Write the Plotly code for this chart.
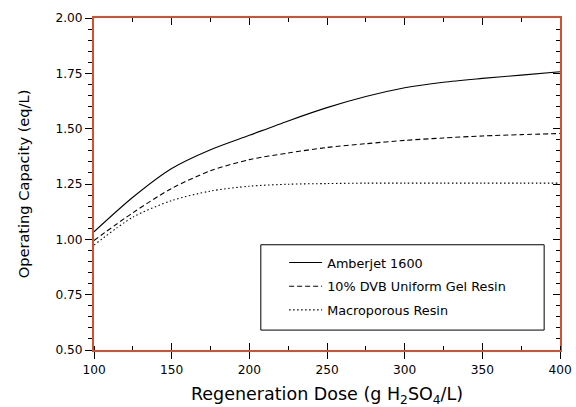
import plotly.graph_objects as go

dose = [100, 125, 150, 175, 200, 225, 250, 275, 300, 325, 350, 375, 400]
amberjet = [1.034, 1.19, 1.32, 1.405, 1.47, 1.535, 1.595, 1.645, 1.685, 1.71, 1.727, 1.742, 1.757]
dvb_gel = [0.995, 1.12, 1.23, 1.31, 1.36, 1.39, 1.415, 1.432, 1.447, 1.458, 1.467, 1.473, 1.478]
macroporous = [0.974, 1.10, 1.175, 1.218, 1.24, 1.249, 1.252, 1.254, 1.254, 1.254, 1.254, 1.254, 1.254]

names = ["Amberjet 1600", "10% DVB Uniform Gel Resin", "Macroporous Resin"]
series = [amberjet, dvb_gel, macroporous]
dashes = ["solid", "5px,3px", "1.5px,2.5px"]

x_range = [100, 400]
y_range = [0.5, 2.0]

FONT = "DejaVu Sans, Verdana, sans-serif"
ORANGE = "#d4502f"

fig = go.Figure()
for i, (nm, ys, ds) in enumerate(zip(names, series, dashes)):
    fig.add_trace(go.Scatter(
        x=dose, y=ys, name=nm, mode="lines",
        line=dict(color="black", width=1.1, dash=ds, shape="spline", smoothing=0.8),
        legendgroup=f"g{i}",
    ))

# invisible helper traces so the mirror axes are drawn
fig.add_trace(go.Scatter(x=[], y=[], xaxis="x2", yaxis="y", showlegend=False, hoverinfo="skip"))
fig.add_trace(go.Scatter(x=[], y=[], xaxis="x3", yaxis="y2", showlegend=False, hoverinfo="skip"))

common = dict(showgrid=False, zeroline=False, tickcolor="black", tickwidth=1, automargin=False)

fig.update_layout(
    width=576, height=407,
    margin=dict(l=94, r=16, t=18, b=57),
    paper_bgcolor="white", plot_bgcolor="white",
    font=dict(family=FONT, size=12, color="black"),
    showlegend=True,
    legend=dict(
        x=0.408, y=0.308, xanchor="left", yanchor="top",
        bgcolor="rgba(0,0,0,0)", borderwidth=0, itemwidth=33,
        font=dict(family=FONT, size=12.8, color="black"),
        tracegroupgap=4,
    ),
    xaxis=dict(
        range=x_range, dtick=50, tick0=100, ticks="outside", ticklen=7,
        minor=dict(dtick=25, ticks="inside", ticklen=4, tickcolor="black"),
        showline=True, linecolor=ORANGE, linewidth=2, mirror=True,
        tickfont=dict(size=12.2),
        title=dict(text="Regeneration Dose (g H<sub>2</sub>SO<sub>4</sub>/L)",
                   font=dict(size=17.5), standoff=16),
        **common,
    ),
    xaxis2=dict(
        range=x_range, overlaying="x", side="bottom", dtick=50, tick0=100,
        ticks="inside", ticklen=7, showticklabels=False, showline=False,
        **common,
    ),
    xaxis3=dict(
        range=x_range, overlaying="x", side="top", dtick=50, tick0=100,
        ticks="inside", ticklen=7, showticklabels=False, showline=False,
        minor=dict(dtick=25, ticks="inside", ticklen=4, tickcolor="black"),
        **common,
    ),
    yaxis=dict(
        range=y_range, dtick=0.25, tick0=0.5, tickformat=".2f",
        ticks="outside", ticklen=7,
        minor=dict(dtick=0.05, ticks="outside", ticklen=4, tickcolor="black"),
        showline=True, linecolor=ORANGE, linewidth=2, mirror=True,
        tickfont=dict(size=12.2),
        title=dict(text="Operating Capacity (eq/L)", font=dict(size=14.6), standoff=22),
        **common,
    ),
    yaxis2=dict(
        range=y_range, overlaying="y", side="right", dtick=0.25, tick0=0.5,
        ticks="inside", ticklen=7, showticklabels=False, showline=False,
        minor=dict(dtick=0.05, ticks="inside", ticklen=4, tickcolor="black"),
        **common,
    ),
    shapes=[dict(
        type="rect", xref="paper", yref="paper",
        x0=0.358, x1=0.966, y0=0.060, y1=0.317,
        line=dict(color="black", width=1), fillcolor="rgba(0,0,0,0)", layer="above",
    )],
)

fig.write_html("out.html")
